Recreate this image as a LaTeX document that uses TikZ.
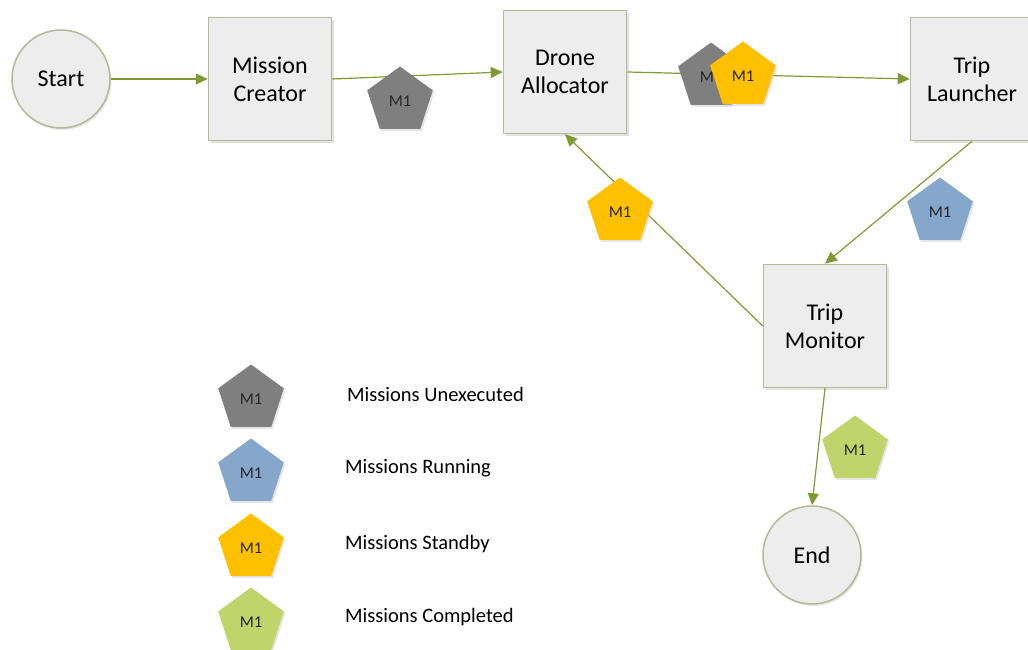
\documentclass[tikz,border=0pt]{standalone}
\usepackage{fontspec}
\setmainfont{Carlito}
\usetikzlibrary{arrows.meta,shapes.geometric,shadows}
\definecolor{flow}{HTML}{7F9A32}
\definecolor{boxline}{HTML}{B2BA96}
\definecolor{boxfill}{HTML}{EDEDED}
\definecolor{mgray}{HTML}{7F7F7F}
\definecolor{mblue}{HTML}{85A7CB}
\definecolor{myellow}{HTML}{FFC000}
\definecolor{mgreen}{HTML}{C0D46C}
\tikzset{
  procbox/.style={draw=boxline, fill=boxfill, line width=1.5pt, minimum width=123pt, minimum height=123pt,
    align=center, inner sep=0pt, font=\fontsize{24}{28}\selectfont,
    drop shadow={shadow xshift=2pt, shadow yshift=-2.5pt, fill=black!22}},
  terminal/.style={circle, draw=boxline, fill=boxfill, line width=1.5pt, minimum size=98pt, inner sep=0pt,
    font=\fontsize{24}{28}\selectfont,
    drop shadow={shadow xshift=1.5pt, shadow yshift=-2pt, fill=black!18}},
  token/.style={regular polygon, regular polygon sides=5, minimum size=69pt, inner sep=0pt,
    draw=none, font=\fontsize{16.5}{18}\selectfont, text=black!85,
    drop shadow={shadow xshift=1.5pt, shadow yshift=-2pt, fill=black!20}},
  legtext/.style={anchor=west, inner sep=0pt, font=\fontsize{20.5}{24}\selectfont},
  flowline/.style={draw=flow, line width=1.2pt, -{Triangle[length=12pt,width=11pt]}},
}
\begin{document}
\begin{tikzpicture}[x=1pt,y=-1pt]
\useasboundingbox (0,0) rectangle (1028,650);
\clip (0,0) rectangle (1028,650);
\fill[white] (0,0) rectangle (1028,650);
% process nodes
\node[terminal] (start) at (61,79) {Start};
\node[procbox] (mc) at (270,79) {Mission\\Creator};
\node[procbox] (da) at (565,72) {Drone\\Allocator};
\node[procbox] (tl) at (972,79) {Trip\\Launcher};
\node[procbox] (tm) at (825,326) {Trip\\Monitor};
\node[terminal] (end) at (812,555) {End};
% connectors
\draw[flowline] (start.east) -- (mc.west);
\draw[flowline] (mc.east) -- (da.west);
\draw[flowline] (da.east) -- (tl.west);
\draw[flowline] (tl.south) -- (tm.north);
\draw[flowline] (tm.west) -- (da.south);
\draw[flowline] (tm.south) -- (end.north);
% tokens on the flow
\node[token, fill=mgray] (t1) at (400,101) {M1};
\node[token, fill=mgray] (t2) at (711,77) {M1};
\node[token, fill=myellow] (t3) at (743,76) {M1};
\node[token, fill=myellow] (t4) at (620,212) {M1};
\node[token, fill=mblue] (t5) at (940,212) {M1};
\node[token, fill=mgreen] (t6) at (855,450) {M1};
% legend
\node[token, fill=mgray] (l1) at (251,399) {M1};
\node[token, fill=mblue] (l2) at (251,473) {M1};
\node[token, fill=myellow] (l3) at (251,548) {M1};
\node[token, fill=mgreen] (l4) at (251,622) {M1};
\node[legtext] (lt1) at (347,394) {Missions Unexecuted};
\node[legtext] (lt2) at (345,468) {Missions Running};
\node[legtext] (lt3) at (345,544) {Missions Standby};
\node[legtext] (lt4) at (345,617) {Missions Completed};
\end{tikzpicture}
\end{document}
